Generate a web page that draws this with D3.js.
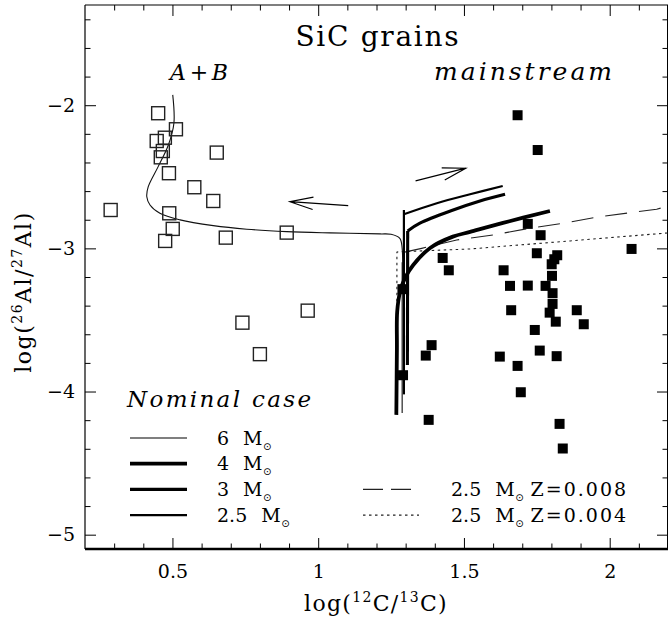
<!DOCTYPE html>
<html><head><meta charset="utf-8">
<script src="https://cdn.jsdelivr.net/npm/d3@7"></script>
<style>html,body{margin:0;padding:0;background:#fff}svg{display:block}</style>
</head><body>
<svg id="c" width="668" height="622"></svg>
<script>
// ---------- data ----------
const xTicks = [0.5, 1, 1.5, 2];
const yTicks = [-2, -3, -4, -5];
const xTickLabels = ["0.5", "1", "1.5", "2"];
const yTickLabels = ["\u22122", "\u22123", "\u22124", "\u22125"];

// A+B grains (open squares)
const abX = [0.451,0.512,0.474,0.446,0.467,0.460,0.652,0.488,0.575,0.640,0.288,0.489,0.501,0.475,0.683,0.892,0.964,0.740,0.800];
const abY = [-2.056,-2.168,-2.227,-2.250,-2.320,-2.364,-2.331,-2.475,-2.573,-2.669,-2.732,-2.755,-2.864,-2.948,-2.925,-2.890,-3.435,-3.519,-3.739];

// mainstream grains (filled squares)
const msX = [1.684,1.753,1.719,1.763,2.075,1.750,1.820,1.810,1.801,1.427,1.448,1.636,1.802,1.658,1.719,1.780,1.804,1.289,1.804,1.662,1.794,1.887,1.815,1.911,1.743,1.389,1.369,1.623,1.760,1.818,1.684,1.291,1.695,1.379,1.828,1.839];
const msY = [-2.070,-2.313,-2.829,-2.908,-3.004,-3.034,-3.048,-3.076,-3.111,-3.067,-3.153,-3.153,-3.192,-3.262,-3.260,-3.262,-3.313,-3.285,-3.388,-3.432,-3.449,-3.432,-3.512,-3.530,-3.570,-3.676,-3.749,-3.756,-3.714,-3.753,-3.821,-3.886,-4.005,-4.198,-4.226,-4.398];

// model curves (log 12C/13C, log 26Al/27Al)
const m6 = [[1.288,-4.15],[1.288,-3.40],[1.288,-3.00],[1.280,-2.93],[1.250,-2.902],[1.212,-2.899],[1.040,-2.892],[0.892,-2.883],[0.755,-2.866],[0.640,-2.841],[0.526,-2.801],[0.457,-2.755],[0.423,-2.697],[0.412,-2.639],[0.417,-2.569],[0.451,-2.429],[0.486,-2.278],[0.505,-2.126],[0.501,-1.928]];
const m4 = [[1.268,-4.163],[1.270,-3.70],[1.271,-3.442],[1.281,-3.302],[1.298,-3.206],[1.326,-3.116],[1.384,-2.997],[1.462,-2.918],[1.521,-2.885],[1.634,-2.822],[1.795,-2.739]];
const m3v = [[1.306,-3.814],[1.307,-2.878]];
const m3 = [[1.307,-2.878],[1.349,-2.824],[1.463,-2.732],[1.555,-2.669],[1.641,-2.622]];
const m25v = [[1.294,-4.02],[1.294,-2.732]];
const m25 = [[1.294,-2.762],[1.407,-2.685],[1.521,-2.622],[1.633,-2.564]];
const z008 = [[1.288,-3.25],[1.288,-3.03],[1.355,-3.000],[1.475,-2.941],[1.601,-2.906],[1.727,-2.859],[1.841,-2.824],[1.967,-2.778],[2.161,-2.727],[2.2,-2.704]];
const z004 = [[1.270,-3.62],[1.270,-3.025],[1.521,-3.004],[1.864,-2.948],[2.2,-2.892]];

// arrows [tail, tip]
const arrowL = [[1.103,-2.702],[0.903,-2.674]];
const arrowR = [[1.334,-2.529],[1.506,-2.440]];

// legend
const legLeft = [{n:"6", w:1.1}, {n:"4", w:3.8}, {n:"3", w:3.1}, {n:"2.5", w:2.2}];
const legRight = [{n:"2.5", z:"Z=0.008", dash:"20,8"}, {n:"2.5", z:"Z=0.004", dash:"2.5,3.5"}];

// ---------- drawing ----------
const svg = d3.select("#c");
const FONT = "DejaVu Serif";
const L=85, R=668, T=5, B=549;
const x = d3.scaleLinear().domain([0.2, 2.2]).range([L, R]);
const y = d3.scaleLinear().domain([-5.1, -1.3]).range([B, T]);

const minorX = d3.range(0.3, 2.2001, 0.1).map(v=>+v.toFixed(2)).filter(v=>!xTicks.includes(v));
const minorY = d3.range(-5.0, -1.2999, 0.2).map(v=>+v.toFixed(2)).filter(v=>!yTicks.includes(v));

function styleAxis(g){ g.select(".domain").remove(); g.selectAll("line").attr("stroke","#000").attr("stroke-width",1); }

// bottom
svg.append("g").attr("transform",`translate(0,${B})`)
  .call(d3.axisBottom(x).tickValues(xTicks).tickSize(-11).tickPadding(16).tickFormat((d,i)=>xTickLabels[i]))
  .call(styleAxis)
  .call(g=>g.selectAll("text").attr("font-family",FONT).attr("font-size",19).attr("fill","#000"));
svg.append("g").attr("transform",`translate(0,${B})`)
  .call(d3.axisBottom(x).tickValues(minorX).tickSize(-5.5).tickFormat("")).call(styleAxis);
// top
svg.append("g").attr("transform",`translate(0,${T})`)
  .call(d3.axisTop(x).tickValues(xTicks).tickSize(-11).tickFormat("")).call(styleAxis);
svg.append("g").attr("transform",`translate(0,${T})`)
  .call(d3.axisTop(x).tickValues(minorX).tickSize(-5.5).tickFormat("")).call(styleAxis);
// left
svg.append("g").attr("transform",`translate(${L},0)`)
  .call(d3.axisLeft(y).tickValues(yTicks).tickSize(-11).tickPadding(10).tickFormat((d,i)=>yTickLabels[i]))
  .call(styleAxis)
  .call(g=>g.selectAll("text").attr("font-family",FONT).attr("font-size",19).attr("fill","#000"));
svg.append("g").attr("transform",`translate(${L},0)`)
  .call(d3.axisLeft(y).tickValues(minorY).tickSize(-5.5).tickFormat("")).call(styleAxis);
// right
svg.append("g").attr("transform",`translate(${R},0)`)
  .call(d3.axisRight(y).tickValues(yTicks).tickSize(-11).tickFormat("")).call(styleAxis);
svg.append("g").attr("transform",`translate(${R},0)`)
  .call(d3.axisRight(y).tickValues(minorY).tickSize(-5.5).tickFormat("")).call(styleAxis);

// frame
svg.append("line").attr("x1",L).attr("x2",L).attr("y1",T).attr("y2",B).attr("stroke","#000").attr("stroke-width",1.2);
svg.append("line").attr("x1",L).attr("x2",R).attr("y1",T).attr("y2",T).attr("stroke","#000").attr("stroke-width",1.2);
svg.append("line").attr("x1",L).attr("x2",R).attr("y1",B).attr("y2",B).attr("stroke","#000").attr("stroke-width",2.4);
svg.append("line").attr("x1",R-0.5).attr("x2",R-0.5).attr("y1",T).attr("y2",B).attr("stroke","#000").attr("stroke-width",1);

// curves
const lineC = d3.line().x(d=>x(d[0])).y(d=>y(d[1])).curve(d3.curveCatmullRom.alpha(0.5));
const lineL = d3.line().x(d=>x(d[0])).y(d=>y(d[1]));
function path(data, w, gen, dash, col){
  svg.append("path").attr("d",gen(data)).attr("fill","none").attr("stroke",col||"#000")
    .attr("stroke-width",w).attr("stroke-dasharray",dash||null).attr("stroke-linejoin","round");
}
path(z004, 1.1, lineL, "2.5,3.5", "#222");
path(z008, 1.1, lineL, "22,12", "#222");
path(m6, 1.1, lineC, null, "#111");
path(m25v, 2.2, lineL); path(m25, 2.2, lineC);
path(m3v, 3.1, lineL); path(m3, 3.1, lineC);
path(m4, 3.8, lineC);

// arrows
function arrow(a){
  const x0=x(a[0][0]), y0=y(a[0][1]), x1=x(a[1][0]), y1=y(a[1][1]);
  const ang=Math.atan2(y0-y1, x0-x1), len=24, sp=15*Math.PI/180;
  const p=d3.path();
  p.moveTo(x0,y0); p.lineTo(x1,y1);
  p.moveTo(x1+len*Math.cos(ang+sp), y1+len*Math.sin(ang+sp)); p.lineTo(x1,y1);
  p.lineTo(x1+len*Math.cos(ang-sp), y1+len*Math.sin(ang-sp));
  svg.append("path").attr("d",p.toString()).attr("fill","none").attr("stroke","#000").attr("stroke-width",1.2);
}
arrow(arrowL); arrow(arrowR);

// points
const abData = abX.map((v,i)=>[v,abY[i]]);
const msData = msX.map((v,i)=>[v,msY[i]]);
svg.append("g").selectAll("rect").data(abData).join("rect")
  .attr("x",d=>x(d[0])-6.5).attr("y",d=>y(d[1])-6.5).attr("width",13).attr("height",13)
  .attr("fill","none").attr("stroke","#222").attr("stroke-width",1.4);
svg.append("g").selectAll("rect").data(msData).join("rect")
  .attr("x",d=>x(d[0])-5).attr("y",d=>y(d[1])-5).attr("width",10).attr("height",10)
  .attr("fill","#000");

// texts
function txt(s, px, py, size, opts={}){
  const t = svg.append("text").attr("x",px).attr("y",py).attr("font-family",FONT).attr("font-size",size)
    .attr("fill","#000").text(s);
  if(opts.italic) t.attr("font-style","italic");
  if(opts.anchor) t.attr("text-anchor",opts.anchor);
  if(opts.len) t.attr("textLength",opts.len).attr("lengthAdjust","spacing");
  return t;
}
txt("SiC grains", 377, 46, 28, {anchor:"middle", len:163});
txt("A+B", 170, 80, 22, {italic:true, len:58});
txt("mainstream", 434, 80, 25, {italic:true, len:178});
txt("Nominal case", 127, 407, 23, {italic:true, len:184});

// axis titles
const xt = svg.append("text").attr("x",376).attr("y",611).attr("font-family",FONT).attr("font-size",22).attr("text-anchor","middle").attr("letter-spacing",1.3);
xt.append("tspan").text("log(");
xt.append("tspan").attr("font-size",14).attr("dy",-9).text("12");
xt.append("tspan").attr("dy",9).text("C/");
xt.append("tspan").attr("font-size",14).attr("dy",-9).text("13");
xt.append("tspan").attr("dy",9).text("C)");

const yt = svg.append("text").attr("transform","translate(31,292) rotate(-90)").attr("font-family",FONT).attr("font-size",22).attr("text-anchor","middle").attr("letter-spacing",1.5);
yt.append("tspan").text("log(");
yt.append("tspan").attr("font-size",14).attr("dy",-9).text("26");
yt.append("tspan").attr("dy",9).text("Al/");
yt.append("tspan").attr("font-size",14).attr("dy",-9).text("27");
yt.append("tspan").attr("dy",9).text("Al)");

// legend: each entry is one text element with tspans
function msun(g, px, py, num, extra){
  const t = g.append("text").attr("x",px).attr("y",py).attr("font-family",FONT).attr("font-size",19);
  t.append("tspan").text(num);
  t.append("tspan").attr("dx",14).text("M");
  t.append("tspan").attr("font-family","DejaVu Sans").attr("font-size",10).attr("dy",5).attr("dx",0.5).text("\u2299");
  if(extra) t.append("tspan").attr("dy",-5).attr("dx",7).attr("letter-spacing",2).text(extra);
}
const lg = svg.append("g");
const rowY = i => 438 + i*25.7;
legLeft.forEach((d,i)=>{
  lg.append("line").attr("x1",130).attr("x2",187).attr("y1",rowY(i)).attr("y2",rowY(i)).attr("stroke","#000").attr("stroke-width",d.w);
  msun(lg, 217, rowY(i)+6.5, d.n);
});
legRight.forEach((d,i)=>{
  const yy=rowY(i+2);
  lg.append("line").attr("x1",363).attr("x2",419).attr("y1",yy).attr("y2",yy).attr("stroke","#222").attr("stroke-width",1.1).attr("stroke-dasharray",d.dash);
  msun(lg, 451, yy+6.5, d.n, d.z);
});
</script>
</body></html>
